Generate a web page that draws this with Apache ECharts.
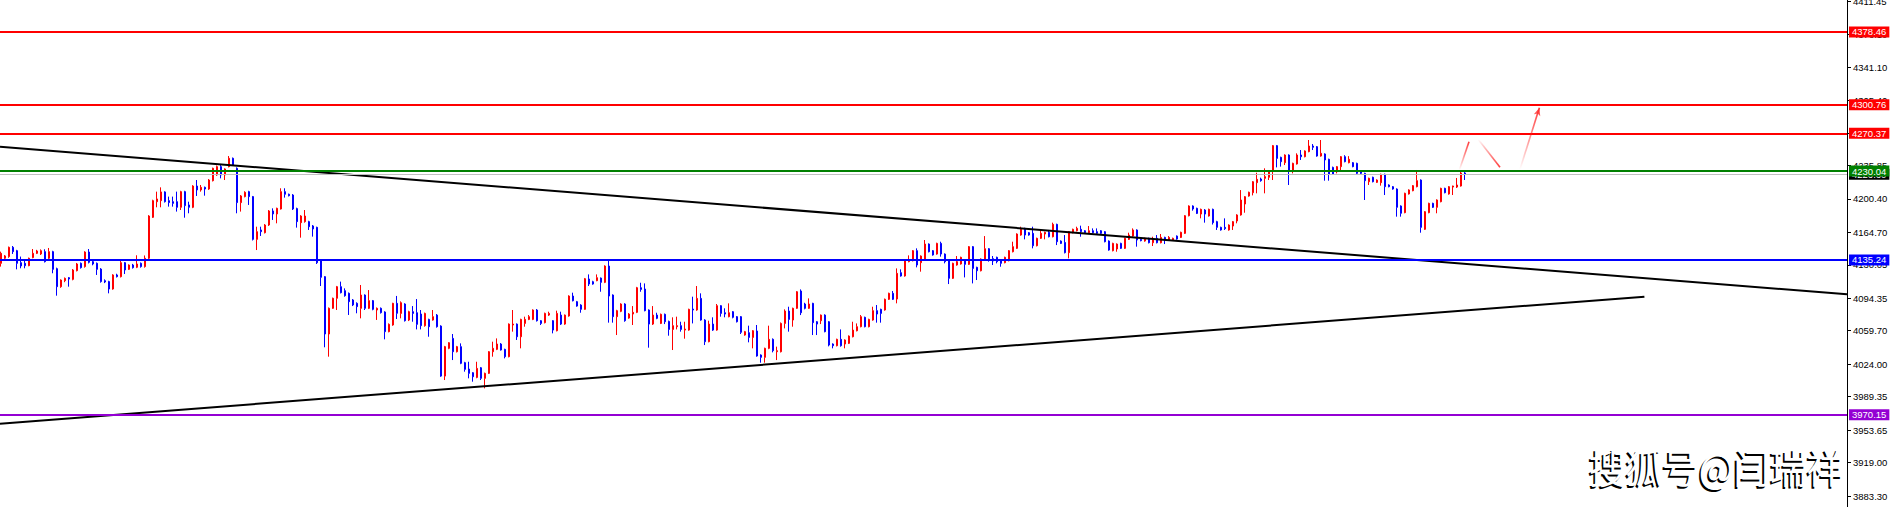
<!DOCTYPE html>
<html><head><meta charset="utf-8">
<script src="https://cdn.jsdelivr.net/npm/echarts@6/dist/echarts.min.js"></script>
<style>html,body{margin:0;padding:0;background:#fff}#c{width:1894px;height:507px}</style>
</head><body><div id="c"></div>
<script>
// [open, close, low, high]
const candles = [
[4131.6,4142.3,4128.1,4144.1],[4137.0,4139.5,4136.0,4140.5],[4138.8,4148.7,4137.5,4149.5],[4148.7,4144.1,4141.6,4150.1],[4145.1,4131.6,4125.2,4146.0],
[4132.3,4128.8,4126.3,4138.8],[4131.6,4129.1,4126.3,4134.1],[4129.1,4137.0,4128.5,4137.7],[4137.7,4142.3,4137.0,4146.9],[4142.3,4144.8,4141.5,4146.0],
[4141.6,4145.1,4140.5,4146.5],[4144.1,4133.4,4132.5,4146.6],[4137.0,4144.1,4136.0,4148.0],[4144.1,4125.2,4121.0,4145.0],[4125.9,4106.7,4097.1,4127.0],
[4106.7,4113.8,4105.5,4114.5],[4113.1,4115.6,4111.5,4116.5],[4116.3,4114.9,4106.7,4117.0],[4114.5,4124.5,4113.5,4125.5],[4123.8,4130.9,4123.0,4132.0],
[4131.6,4127.0,4126.0,4132.5],[4128.1,4143.7,4127.0,4144.5],[4143.7,4132.7,4131.5,4146.9],[4133.4,4130.9,4129.5,4134.5],[4131.6,4125.2,4119.2,4132.5],
[4125.5,4112.1,4111.0,4126.5],[4113.1,4111.7,4110.5,4114.5],[4112.1,4104.2,4099.6,4113.0],[4104.2,4119.2,4103.5,4120.0],[4119.2,4117.4,4116.5,4120.5],
[4117.4,4132.3,4116.5,4134.1],[4132.3,4124.5,4120.2,4133.0],[4125.2,4129.8,4124.5,4130.5],[4129.8,4127.0,4126.0,4131.0],[4127.4,4130.9,4126.5,4140.2],
[4131.6,4128.1,4127.0,4132.5],[4128.1,4137.0,4127.0,4140.0],[4137.0,4182.1,4136.0,4183.0],[4180.7,4198.5,4180.0,4199.5],[4197.4,4200.3,4191.4,4208.1],
[4198.5,4207.8,4191.4,4212.7],[4207.8,4197.4,4196.5,4208.5],[4198.5,4196.4,4192.1,4202.8],[4197.4,4195.6,4192.1,4202.8],[4197.4,4191.4,4186.8,4208.1],
[4191.4,4208.1,4188.5,4209.0],[4208.1,4193.2,4180.3,4209.0],[4193.9,4191.4,4185.0,4197.4],[4191.4,4214.1,4190.5,4215.0],[4214.1,4209.9,4203.5,4220.5],
[4209.9,4212.7,4208.1,4215.2],[4212.7,4210.9,4203.8,4213.5],[4210.9,4220.5,4210.0,4221.5],[4219.8,4233.0,4219.0,4233.7],[4225.9,4234.8,4225.0,4236.0],
[4234.8,4225.9,4222.3,4236.5],[4225.9,4232.3,4220.5,4233.0],[4234.8,4243.7,4234.0,4246.1],[4243.7,4236.5,4235.5,4244.5],[4233.0,4196.4,4185.0,4234.0],
[4196.4,4203.5,4186.8,4204.5],[4202.8,4207.4,4202.0,4208.5],[4208.1,4202.8,4193.9,4209.0],[4202.8,4157.2,4156.0,4203.5],[4157.2,4165.4,4145.8,4170.7],
[4167.2,4165.4,4160.8,4170.7],[4164.3,4172.5,4163.5,4173.5],[4172.5,4187.5,4171.5,4188.5],[4187.5,4184.3,4177.9,4190.3],[4184.3,4190.3,4174.3,4191.0],
[4189.6,4208.1,4189.0,4211.7],[4208.1,4205.3,4201.7,4211.7],[4205.3,4203.8,4203.0,4206.0],[4204.5,4189.6,4188.5,4205.5],[4190.0,4176.1,4169.7,4191.0],
[4175.0,4182.1,4159.0,4183.0],[4176.1,4182.1,4175.0,4188.5],[4176.1,4170.7,4167.2,4177.0],[4171.5,4168.3,4160.1,4172.5],[4170.0,4132.3,4130.9,4170.7],
[4134.1,4116.7,4107.4,4135.0],[4117.4,4056.2,4042.0,4118.0],[4056.2,4083.6,4032.0,4084.5],[4083.6,4094.3,4083.0,4095.0],[4094.3,4106.7,4081.8,4107.5],
[4106.7,4100.3,4099.5,4112.1],[4102.4,4097.1,4096.0,4104.9],[4099.6,4090.7,4076.5,4100.5],[4092.5,4087.2,4086.0,4093.5],[4088.9,4085.4,4078.3,4090.0],
[4083.6,4097.8,4072.9,4108.5],[4097.8,4083.6,4081.8,4098.5],[4083.6,4091.8,4082.8,4103.1],[4091.8,4082.5,4081.5,4092.5],[4081.8,4083.6,4071.2,4084.5],
[4083.6,4079.0,4078.0,4084.5],[4079.7,4058.7,4050.5,4080.5],[4058.7,4066.5,4058.0,4067.5],[4065.8,4088.9,4065.0,4089.5],[4088.9,4078.3,4072.2,4096.8],
[4078.2,4089.6,4072.9,4091.0],[4088.2,4070.4,4069.5,4089.0],[4071.1,4080.0,4070.0,4081.0],[4080.0,4078.2,4069.3,4086.0],[4078.9,4066.5,4061.1,4093.5],
[4077.5,4065.1,4061.1,4081.8],[4065.1,4078.2,4064.0,4079.0],[4071.8,4064.0,4053.3,4072.5],[4071.1,4074.7,4070.5,4081.8],[4076.4,4064.0,4063.0,4077.5],
[4064.7,4011.3,4010.5,4065.5],[4011.3,4042.7,4007.1,4043.5],[4040.9,4046.9,4040.0,4047.5],[4051.5,4037.3,4028.4,4056.2],[4037.3,4042.7,4036.5,4043.5],
[4042.7,4024.9,4024.0,4046.2],[4025.6,4018.5,4016.0,4026.5],[4018.8,4014.2,4008.9,4026.6],[4014.9,4010.6,4005.3,4015.5],[4009.9,4019.5,4009.0,4026.6],
[4020.2,4008.9,4007.1,4021.0],[4008.9,4014.2,3998.2,4015.0],[4014.2,4037.3,4013.5,4038.0],[4037.3,4040.9,4032.0,4048.0],[4039.8,4045.5,4039.0,4051.5],
[4045.5,4039.1,4038.5,4046.5],[4039.8,4032.0,4030.2,4040.5],[4032.0,4066.8,4031.3,4067.5],[4065.8,4066.8,4058.7,4081.8],[4066.8,4053.3,4049.8,4067.5],
[4053.3,4071.8,4040.9,4072.5],[4067.5,4071.8,4064.0,4074.7],[4071.8,4074.7,4071.0,4076.4],[4071.8,4081.8,4071.0,4082.5],[4081.8,4070.4,4069.5,4082.8],
[4070.4,4067.5,4065.8,4071.0],[4068.3,4078.2,4067.5,4079.0],[4076.4,4078.2,4075.5,4080.0],[4070.4,4060.4,4056.9,4071.0],[4059.7,4078.2,4059.0,4081.1],
[4076.4,4066.8,4065.8,4080.0],[4066.8,4076.4,4066.0,4077.0],[4075.4,4096.7,4074.7,4097.5],[4096.7,4091.7,4091.0,4100.3],[4090.7,4086.0,4085.3,4091.5],
[4087.1,4082.5,4078.9,4088.0],[4082.5,4115.2,4082.0,4116.0],[4114.9,4109.5,4107.4,4119.8],[4112.0,4109.5,4108.8,4113.0],[4113.1,4116.3,4112.5,4119.8],
[4115.9,4111.3,4101.3,4116.5],[4111.3,4128.7,4110.5,4129.5],[4128.7,4096.7,4068.3,4134.1],[4097.8,4074.7,4068.3,4098.5],[4074.7,4081.1,4055.1,4082.0],
[4080.4,4088.2,4079.5,4089.0],[4088.2,4070.4,4069.3,4089.0],[4073.2,4077.5,4072.5,4078.5],[4077.5,4079.3,4065.8,4086.0],[4079.3,4105.6,4078.5,4106.5],
[4105.6,4103.8,4101.3,4110.9],[4104.2,4081.1,4080.4,4110.2],[4081.8,4066.8,4041.6,4082.5],[4066.8,4076.4,4065.8,4086.0],[4076.4,4072.9,4072.0,4078.9],
[4067.5,4077.2,4066.8,4078.0],[4077.2,4069.3,4066.8,4078.0],[4069.6,4061.1,4054.4,4070.5],[4061.1,4065.1,4039.1,4074.0],[4064.0,4065.1,4061.1,4074.7],
[4065.1,4061.1,4058.7,4069.3],[4060.4,4061.5,4051.2,4069.3],[4060.4,4082.5,4059.7,4083.2],[4082.8,4081.8,4067.5,4096.0],[4081.8,4094.2,4081.0,4107.4],
[4094.2,4071.1,4070.4,4099.6],[4071.1,4048.0,4044.4,4072.0],[4048.0,4066.8,4047.3,4070.4],[4066.8,4060.4,4059.5,4074.0],[4060.4,4086.4,4059.7,4088.2],
[4086.4,4078.2,4074.7,4087.0],[4078.9,4077.5,4074.0,4083.6],[4074.7,4078.9,4074.0,4088.9],[4080.0,4074.0,4072.9,4080.7],[4074.7,4069.3,4068.5,4075.4],
[4074.7,4058.0,4056.2,4075.4],[4055.1,4058.7,4054.4,4059.5],[4057.6,4052.6,4047.3,4065.1],[4052.6,4059.7,4040.9,4060.4],[4059.4,4032.7,4032.0,4065.8],
[4033.8,4031.3,4025.6,4034.5],[4031.3,4040.9,4025.6,4041.6],[4040.9,4050.5,4040.0,4065.1],[4050.5,4038.4,4036.6,4051.5],[4037.3,4038.4,4028.4,4042.7],
[4037.3,4067.5,4036.5,4068.5],[4067.5,4080.7,4062.2,4082.5],[4080.7,4071.8,4058.7,4085.3],[4071.1,4083.6,4064.0,4084.3],[4083.6,4101.3,4083.0,4102.0],
[4102.1,4078.9,4076.4,4103.8],[4088.2,4083.6,4082.5,4089.5],[4083.6,4088.2,4083.0,4094.2],[4088.9,4068.3,4055.1,4089.5],[4069.3,4066.8,4055.1,4070.0],
[4070.4,4076.4,4066.8,4077.0],[4076.4,4058.7,4058.0,4077.2],[4069.3,4044.4,4043.0,4070.0],[4045.5,4043.7,4040.9,4046.2],[4043.7,4050.5,4043.0,4051.2],
[4050.5,4043.7,4042.7,4061.1],[4045.5,4049.8,4040.9,4050.5],[4046.2,4054.0,4045.5,4054.7],[4053.3,4060.4,4052.6,4069.3],[4059.7,4064.0,4059.0,4067.5],
[4064.0,4074.7,4063.3,4076.4],[4074.0,4064.0,4063.3,4074.7],[4064.0,4071.8,4063.3,4072.5],[4071.1,4081.1,4070.4,4085.3],[4081.1,4077.5,4068.3,4087.1],
[4082.5,4078.2,4068.3,4083.2],[4081.8,4093.2,4081.1,4094.0],[4093.2,4099.6,4092.5,4100.3],[4099.6,4093.2,4092.5,4102.1],[4093.5,4120.9,4088.9,4126.2],
[4121.6,4118.1,4117.4,4125.2],[4118.1,4134.1,4117.4,4134.8],[4133.4,4135.1,4132.7,4140.1],[4134.4,4145.1,4133.7,4145.8],[4145.1,4129.8,4127.3,4147.6],
[4132.3,4139.4,4122.7,4140.1],[4135.1,4152.2,4134.4,4156.5],[4152.2,4144.0,4143.3,4152.9],[4145.1,4140.5,4139.8,4145.8],[4141.5,4152.9,4140.8,4153.6],
[4152.9,4141.5,4138.7,4154.7],[4141.5,4133.4,4131.6,4142.2],[4134.1,4115.6,4109.5,4134.8],[4115.6,4131.6,4114.9,4132.3],[4129.8,4133.4,4129.1,4139.4],
[4130.9,4138.0,4130.2,4138.7],[4135.1,4130.5,4116.6,4135.8],[4130.5,4149.4,4129.8,4150.1],[4149.4,4126.2,4110.2,4150.1],[4127.3,4123.7,4113.8,4128.0],
[4123.7,4136.2,4123.0,4136.9],[4135.8,4147.2,4135.1,4160.7],[4147.2,4135.1,4133.4,4147.9],[4136.6,4134.1,4129.8,4139.4],[4138.0,4133.4,4131.6,4138.7],
[4134.4,4131.6,4128.0,4135.1],[4132.3,4138.0,4131.6,4138.7],[4134.4,4145.1,4133.7,4145.8],[4144.0,4149.4,4143.3,4154.7],[4147.6,4162.9,4146.9,4163.6],
[4161.8,4167.9,4161.1,4170.7],[4168.9,4161.8,4157.2,4169.6],[4164.3,4161.8,4161.1,4165.0],[4163.6,4150.4,4147.6,4170.7],[4150.4,4158.3,4149.7,4159.0],
[4158.3,4163.6,4157.6,4167.2],[4162.9,4164.7,4157.2,4165.4],[4164.7,4160.0,4159.3,4167.2],[4160.0,4173.2,4159.3,4175.0],[4173.2,4154.7,4151.1,4173.9],
[4155.4,4152.9,4152.2,4156.1],[4153.9,4143.0,4142.2,4161.8],[4143.0,4165.4,4136.9,4166.1],[4164.3,4167.9,4163.6,4168.6],[4166.4,4168.9,4165.7,4170.7],
[4167.9,4165.4,4160.0,4171.8],[4166.4,4164.3,4163.6,4167.1],[4164.3,4166.4,4163.6,4171.4],[4166.4,4164.3,4163.6,4168.9],[4165.4,4163.6,4162.9,4168.9],
[4166.4,4163.6,4162.9,4167.1],[4165.4,4154.7,4154.0,4166.1],[4155.4,4145.8,4145.1,4156.1],[4145.1,4152.9,4144.4,4153.6],[4146.9,4152.2,4144.0,4152.9],
[4152.9,4147.6,4146.9,4153.6],[4147.6,4158.3,4146.9,4159.0],[4157.2,4161.8,4156.5,4164.3],[4160.7,4167.2,4160.0,4168.9],[4167.2,4156.5,4149.4,4167.9],
[4157.2,4155.8,4155.1,4157.9],[4155.4,4158.3,4154.7,4159.0],[4158.3,4153.6,4152.9,4159.0],[4153.6,4157.2,4150.1,4160.0],[4158.3,4153.6,4152.9,4161.8],
[4153.6,4159.3,4152.9,4162.9],[4159.3,4156.5,4152.2,4160.0],[4156.5,4159.3,4155.8,4160.7],[4156.5,4158.3,4155.8,4159.0],[4160.7,4157.5,4156.8,4161.4],
[4159.3,4164.7,4158.6,4165.4],[4163.6,4182.4,4162.9,4183.1],[4182.4,4192.8,4181.7,4193.5],[4192.8,4189.6,4187.8,4193.5],[4190.3,4184.9,4184.2,4191.0],
[4184.2,4189.2,4179.6,4190.0],[4188.5,4184.2,4175.0,4189.5],[4182.1,4189.2,4181.5,4190.0],[4189.2,4175.0,4173.0,4190.0],[4176.1,4170.0,4167.2,4177.0],
[4170.0,4167.2,4166.5,4170.7],[4170.0,4168.6,4167.2,4179.6],[4167.2,4172.5,4166.5,4173.2],[4171.4,4176.1,4167.2,4176.8],[4176.8,4183.2,4174.3,4184.0],
[4183.2,4199.2,4182.5,4209.8],[4194.9,4202.7,4185.6,4203.4],[4203.4,4207.4,4202.7,4208.1],[4207.0,4218.7,4204.1,4219.4],[4217.7,4221.2,4206.3,4228.3],
[4221.6,4219.8,4218.7,4223.0],[4222.3,4224.1,4206.3,4233.0],[4223.4,4230.5,4220.5,4231.2],[4230.5,4257.2,4220.5,4257.9],[4257.2,4243.6,4234.0,4257.9],
[4244.7,4240.1,4234.8,4245.4],[4239.0,4247.2,4236.5,4247.9],[4247.2,4231.2,4215.2,4247.9],[4231.2,4238.3,4227.6,4239.0],[4237.6,4247.2,4237.0,4249.0],
[4247.2,4245.4,4241.9,4252.5],[4245.4,4251.5,4244.7,4252.2],[4250.8,4256.8,4250.1,4263.2],[4256.8,4255.4,4252.5,4258.9],[4256.1,4246.1,4245.4,4256.8],
[4246.1,4249.0,4245.4,4263.2],[4248.3,4241.9,4219.8,4249.0],[4242.6,4226.6,4219.8,4243.3],[4234.0,4226.6,4226.0,4234.8],[4229.4,4234.8,4227.6,4235.5],
[4234.8,4245.4,4229.4,4246.1],[4245.4,4240.1,4239.4,4247.0],[4239.0,4242.6,4238.3,4246.0],[4239.0,4234.8,4234.1,4239.7],[4238.3,4227.6,4226.9,4239.0],
[4229.4,4227.6,4226.9,4230.1],[4227.6,4219.8,4199.2,4228.3],[4218.7,4222.3,4215.2,4223.0],[4223.4,4218.7,4218.0,4224.1],[4218.0,4220.5,4217.3,4221.2],
[4217.7,4226.6,4214.5,4227.3],[4226.6,4213.4,4204.5,4227.3],[4215.2,4213.4,4212.7,4215.9],[4213.4,4210.9,4210.2,4214.1],[4210.9,4191.4,4181.4,4211.6],
[4192.8,4185.0,4181.4,4193.5],[4185.7,4206.3,4185.0,4207.0],[4205.6,4209.9,4205.0,4210.6],[4209.1,4214.5,4208.5,4215.2],[4213.4,4219.8,4212.7,4231.2],
[4220.5,4170.0,4164.3,4221.2],[4167.9,4186.7,4167.2,4187.4],[4185.7,4195.6,4185.0,4196.3],[4195.6,4191.4,4190.7,4196.3],[4191.4,4199.2,4185.0,4199.9],
[4197.4,4211.6,4196.7,4212.3],[4211.6,4207.0,4206.3,4212.3],[4205.6,4213.4,4204.9,4214.1],[4213.0,4214.1,4204.5,4214.5],[4213.0,4215.2,4212.0,4222.7],
[4214.1,4228.0,4213.5,4230.1],[4228.0,4226.6,4220.5,4229.0]
];
const tickValues = [4411.45,4376.10,4341.10,4305.40,4270.75,4235.85,4200.40,4164.70,4130.05,4094.35,4059.70,4024.00,3989.35,3953.65,3919.00,3883.30];
const levelPrices = [4378.46, 4300.76, 4270.37, 4230.04, 4135.24, 3970.15];
const levelColors = ['#ff0000', '#ff0000', '#ff0000', '#008000', '#0000ff', '#9400d3'];
const bidPrice = 4226.60;
const upperTrend = [[-0.25, 4256.05], [461.5, 4098.5]];
const lowerTrend = [[-0.25, 3960.5], [410.85, 4096.0]];
const pathA = [[364.6, 4231.2], [367.0, 4261.4]];
const pathB = [[369.3, 4263.9], [374.75, 4234.1]];
const pathC = [[379.75, 4231.9], [384.6, 4297.7]];
const slotCount = 462;
const watermark = '搜狐号@闫瑞祥';

const chart = echarts.init(document.getElementById('c'), null, {renderer: 'svg'});
const cats = [];
for (let i = 0; i < slotCount; i++) cats.push(String(i));

function fade(up) {
  return {type: 'linear', x: 0, y: up ? 1 : 0, x2: 0, y2: up ? 0 : 1,
    colorStops: [{offset: 0, color: 'rgba(255,0,0,0)'}, {offset: 1, color: 'rgba(255,40,40,0.9)'}]};
}
function pathSeries(d, up) {
  return {type: 'line', xAxisIndex: 1, yAxisIndex: 0, data: d, showSymbol: false, symbol: 'none',
    silent: true, z: 5, lineStyle: {width: 1.6, color: fade(up)}};
}
const labelBase = {show: true, position: 'end', distance: 2, color: '#fff', fontSize: 9.5,
  fontFamily: 'Liberation Sans', padding: [1, 3, 0, 3], lineHeight: 10,
  formatter: p => Number(p.value).toFixed(2)};
const mlData = [{yAxis: bidPrice, lineStyle: {color: '#c0c0c0', width: 1, type: 'solid'},
  label: Object.assign({}, labelBase, {backgroundColor: '#000'})}];
levelPrices.forEach((v, i) => mlData.push({yAxis: v,
  lineStyle: {color: levelColors[i], width: 2, type: 'solid'},
  label: Object.assign({}, labelBase, {backgroundColor: levelColors[i]})}));

const wmFont = '40px "Noto Sans CJK SC"';
const option = {
  animation: false,
  backgroundColor: '#ffffff',
  grid: {left: -1, right: 47, top: 0, bottom: 0, containLabel: false, outerBoundsMode: 'none'},
  xAxis: [
    {type: 'category', data: cats, show: false, boundaryGap: true},
    {type: 'value', min: -0.5, max: slotCount - 0.5, show: false}
  ],
  yAxis: [{
    type: 'value', position: 'right', min: 3871.6, max: 4412.6,
    axisLine: {show: true, onZero: false, lineStyle: {color: '#000', width: 1}},
    axisTick: {show: true, inside: false, length: 4, customValues: tickValues, lineStyle: {color: '#000'}},
    axisLabel: {show: true, customValues: tickValues, margin: 6, color: '#000', fontSize: 9.5,
      fontFamily: 'Liberation Sans', formatter: v => Number(v).toFixed(2)},
    splitLine: {show: false}
  }],
  series: [
    {type: 'candlestick', xAxisIndex: 0, yAxisIndex: 0, data: candles, barWidth: 2, clip: false, z: 2,
      itemStyle: {color: '#ff0000', color0: '#0000ff', borderColor: '#ff0000', borderColor0: '#0000ff', borderWidth: 1},
      markLine: {silent: true, symbol: 'none', data: mlData, z: 4}},
    {type: 'line', xAxisIndex: 1, yAxisIndex: 0, data: upperTrend, symbol: 'none', silent: true, z: 3,
      lineStyle: {color: '#000', width: 2}},
    {type: 'line', xAxisIndex: 1, yAxisIndex: 0, data: lowerTrend, symbol: 'none', silent: true, z: 3,
      lineStyle: {color: '#000', width: 2}},
    pathSeries(pathA, true),
    pathSeries(pathB, false),
    pathSeries(pathC, true),
    {type: 'scatter', xAxisIndex: 1, yAxisIndex: 0, data: [pathC[1]], symbol: 'arrow', symbolSize: [5, 8],
      symbolRotate: -17, silent: true, z: 6, itemStyle: {color: '#ff3030'}}
  ],
  graphic: [
    {type: 'group', x: 1589, y: 466, scaleX: 0.915, z: 100, silent: true, children: [
      {type: 'text', x: -2, y: 2, silent: true,
        style: {text: watermark, fill: '#000', font: wmFont, textAlign: 'left', textVerticalAlign: 'middle', align: 'left', verticalAlign: 'middle'}},
      {type: 'text', x: 0, y: 0, silent: true,
        style: {text: watermark, fill: '#fff', font: wmFont, textAlign: 'left', textVerticalAlign: 'middle', align: 'left', verticalAlign: 'middle'}}
    ]}
  ]
};
chart.setOption(option);
</script></body></html>
